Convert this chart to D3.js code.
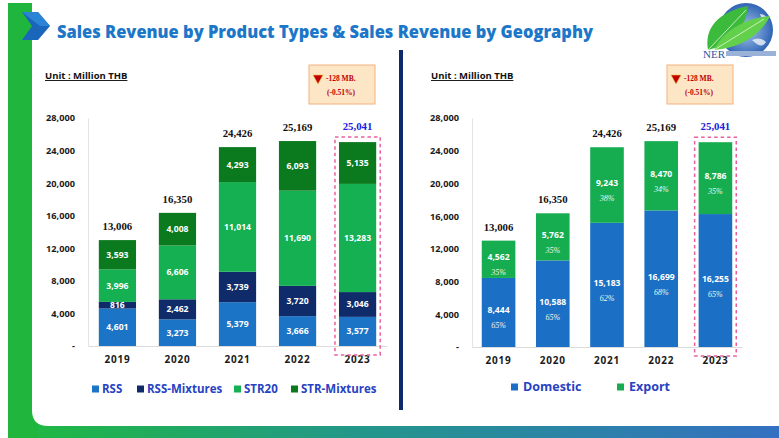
<!DOCTYPE html>
<html>
<head>
<meta charset="utf-8">
<script src="https://cdn.jsdelivr.net/npm/d3@7"></script>
<style>
  html,body{margin:0;padding:0;background:#fff;}
  svg{display:block;}
  .tick text{font-family:"Open Sans",sans-serif;font-weight:700;fill:#1a1a1a;}
</style>
</head>
<body>
<div id="view"></div>
<script>
(function(){
/* ===================== DATA ===================== */
const YEARS = ["2019","2020","2021","2022","2023"];
const TOTALS = [13006, 16350, 24426, 25169, 25041];
const Y_TICKS = [0, 4000, 8000, 12000, 16000, 20000, 24000, 28000];

// product types (left)
const PRODUCT_KEYS = ["RSS","RSS-Mixtures","STR20","STR-Mixtures"];
const RSS          = [4601, 3273, 5379, 3666, 3577];
const RSS_MIX      = [816, 2462, 3739, 3720, 3046];
const STR20        = [3996, 6606, 11014, 11690, 13283];
const STR_MIX      = [3593, 4008, 4293, 6093, 5135];

// geography (right)
const GEO_KEYS = ["Domestic","Export"];
const DOMESTIC     = [8444, 10588, 15183, 16699, 16255];
const EXPORT       = [4562, 5762, 9243, 8470, 8786];
const DOMESTIC_PCT = ["65%","65%","62%","68%","65%"];
const EXPORT_PCT   = ["35%","35%","38%","34%","35%"];

const CALLOUT = ["-128 MB.", "(-0.51%)"];

/* ===================== PALETTE ===================== */
const COLORS = {
  "RSS":"#1b74c5", "RSS-Mixtures":"#102b6a", "STR20":"#14b052", "STR-Mixtures":"#0b7a1f",
  "Domestic":"#1b6fc4", "Export":"#16ad50"
};
const LEGEND_TXT = "#2742c2";
const SANS = "Open Sans, sans-serif";
const SERIF = "Liberation Serif, serif";
const fmt = d3.format(",");

const W = 779, H = 438;
const svg = d3.select("#view").append("svg").attr("width",W).attr("height",H);
const defs = svg.append("defs");

/* ===================== FRAME ===================== */
const gb = defs.append("linearGradient").attr("id","band").attr("x1","0").attr("x2","1");
gb.append("stop").attr("offset","0").attr("stop-color","#1fba3e");
gb.append("stop").attr("offset","0.45").attr("stop-color","#23978a");
gb.append("stop").attr("offset","1").attr("stop-color","#3470c2");

svg.append("rect").attr("x",8).attr("y",3).attr("width",W-8).attr("height",H-3).attr("fill","url(#band)");
svg.append("rect").attr("x",8).attr("y",3).attr("width",30).attr("height",H-3).attr("fill","#20b53d");
// white panel, rounded bottom-left
svg.append("path")
  .attr("d",`M32,3 H${W} V426 H48 Q32,426 32,410 Z`)
  .attr("fill","#fff");

// chevron
svg.append("path").attr("d","M22,12 L38,12 L50,26 L38,40 L22,40 L32,26 Z").attr("fill","#1a66bb");
svg.append("path").attr("d","M22,12 L38,12 L50,26 L40,26 Z").attr("fill","#2b84d6");

svg.append("text").attr("x",57).attr("y",38)
  .attr("font-family",SANS).attr("font-weight",800).attr("font-size",17)
  .attr("fill","#1c77c9")
  .attr("textLength",536).attr("lengthAdjust","spacingAndGlyphs")
  .text("Sales Revenue by Product Types & Sales Revenue by Geography");

// divider
svg.append("rect").attr("x",399).attr("y",50).attr("width",4).attr("height",360).attr("fill","#0e2a6b");

// logo (approximation)
const logo = svg.append("g");
const lg = defs.append("radialGradient").attr("id","globe");
lg.append("stop").attr("offset","0").attr("stop-color","#a9c8ec");
lg.append("stop").attr("offset","1").attr("stop-color","#2f64b4");
logo.append("circle").attr("cx",746).attr("cy",30).attr("r",27).attr("fill","url(#globe)");
logo.append("path").attr("d","M730,20 q6,-6 12,-2 q4,6 -2,10 q-8,2 -10,-8Z M752,40 q8,-4 14,2 q-4,8 -14,-2Z M760,14 q6,0 8,6 q-6,2 -8,-6Z").attr("fill","#e6eef8").attr("opacity",0.85);
logo.append("path").attr("d","M708,50 C704,28 718,12 748,6 C746,28 732,44 708,50Z").attr("fill","#3cba3c");
logo.append("path").attr("d","M714,50 C722,32 744,18 770,16 C760,36 740,48 714,50Z").attr("fill","#62d04a");
logo.append("path").attr("d","M708,50 L746,10 M714,50 L764,19").attr("stroke","#e8f6e0").attr("stroke-width",0.8);
logo.append("text").attr("x",703).attr("y",58).attr("font-family",SERIF).attr("font-size",11)
  .attr("fill","#2a56a8").text("NER");
logo.append("rect").attr("x",726).attr("y",51).attr("width",50).attr("height",5).attr("fill","#9bb2d8");

/* ===================== CHART ===================== */
function drawPanel(opt){
  const g = svg.append("g");
  const x = d3.scaleBand().domain(YEARS).range(opt.xr).paddingInner(0.38).paddingOuter(0.18);
  const y = d3.scaleLinear().domain([0,28000]).range([opt.base,118]);

  // unit
  g.append("text").attr("x",opt.unitX).attr("y",79)
    .attr("font-family",SANS).attr("font-weight",700).attr("font-size",9.5)
    .attr("fill","#111").attr("text-decoration","underline").text("Unit : Million THB");

  // callout
  const cb = g.append("g").attr("transform",`translate(${opt.callX},65)`);
  cb.append("rect").attr("width",66).attr("height",39).attr("fill","#fde6c6").attr("stroke","#f2b27e").attr("stroke-width",1);
  cb.append("path").attr("d","M4,10 L14,10 L9,19 Z").attr("fill","#c00000").attr("stroke","#f0c040").attr("stroke-width",0.6);
  cb.append("text").attr("x",17).attr("y",16).attr("font-family",SERIF).attr("font-weight",700)
    .attr("font-size",7.5).attr("fill","#c00000").text(CALLOUT[0]);
  cb.append("text").attr("x",18).attr("y",30).attr("font-family",SERIF).attr("font-weight",700)
    .attr("font-size",7.5).attr("fill","#c00000").text(CALLOUT[1]);

  // axes
  const ya = g.append("g").attr("transform",`translate(${opt.xr[0]},0)`)
    .call(d3.axisLeft(y).tickValues(Y_TICKS).tickSize(0).tickPadding(13).tickSizeOuter(0)
      .tickFormat(v => v===0 ? "-" : fmt(v)));
  ya.select(".domain").attr("stroke","#e3e3e3");
  ya.selectAll("text").attr("font-size",9.2);

  const xa = g.append("g").attr("transform",`translate(0,${opt.base})`)
    .call(d3.axisBottom(x).tickSize(0).tickPadding(10).tickSizeOuter(0));
  xa.select(".domain").attr("stroke","#dcdcdc");
  xa.selectAll("text").attr("font-size",10).attr("letter-spacing",0.8);

  // bars
  const rows = YEARS.map((yr,i) => {
    const o = {year:yr, i};
    opt.keys.forEach((k,j) => o[k] = opt.series[j][i]);
    return o;
  });
  const stacked = d3.stack().keys(opt.keys)(rows);
  const layer = g.selectAll("g.layer").data(stacked).join("g").attr("fill", d => COLORS[d.key]);
  layer.selectAll("rect").data(d => d).join("rect")
    .attr("x", d => x(d.data.year)).attr("width", x.bandwidth())
    .attr("y", d => y(d[1])).attr("height", d => y(d[0]) - y(d[1]));

  // segment labels
  stacked.forEach((s,j) => {
    g.selectAll(null).data(s).join("text")
      .attr("x", d => x(d.data.year) + x.bandwidth()/2)
      .attr("y", d => (y(d[0])+y(d[1]))/2 + (opt.pct ? 1 : 3))
      .attr("text-anchor","middle")
      .attr("font-family",SANS).attr("font-weight",700).attr("font-size",8.6)
      .attr("fill","#fff")
      .text(d => fmt(d[1]-d[0]));
    if (opt.pct){
      g.selectAll(null).data(s).join("text")
        .attr("x", d => x(d.data.year) + x.bandwidth()/2)
        .attr("y", d => (y(d[0])+y(d[1]))/2 + 16)
        .attr("text-anchor","middle")
        .attr("font-family",SERIF).attr("font-style","italic").attr("font-size",8)
        .attr("fill","#eef6ee")
        .text((d,i) => opt.pct[j][i]);
    }
  });

  // 2023 highlight box
  const last = YEARS[YEARS.length-1];
  g.append("rect")
    .attr("x", x(last)-4).attr("width", x.bandwidth()+8)
    .attr("y", y(TOTALS[TOTALS.length-1]) - 5).attr("height", opt.base - y(TOTALS[TOTALS.length-1]) + 14)
    .attr("fill","none").attr("stroke","#e8609d").attr("stroke-width",1.5).attr("stroke-dasharray","3.5,3");

  // totals
  g.selectAll(null).data(TOTALS).join("text")
    .attr("x", (d,i) => x(YEARS[i]) + x.bandwidth()/2)
    .attr("y", (d,i) => y(d) - (i===TOTALS.length-1 ? 12 : 10))
    .attr("text-anchor","middle")
    .attr("font-family",SERIF).attr("font-weight",700).attr("font-size",10.8)
    .attr("fill",(d,i) => i===TOTALS.length-1 ? "#2020e0" : "#111")
    .text(d => fmt(d));

  // legend
  const leg = g.append("g").attr("transform",`translate(0,${opt.legendY})`);
  const items = leg.selectAll("g").data(opt.keys).join("g")
    .attr("transform",(d,i) => `translate(${opt.legendX[i]},0)`);
  items.append("rect").attr("x",0).attr("y",-3.5).attr("width",7).attr("height",7).attr("fill",d => COLORS[d]);
  items.append("text").attr("x",opt.legendGap).attr("y",4)
    .attr("font-family",SANS).attr("font-weight",700).attr("font-size",opt.legendSize)
    .attr("fill",LEGEND_TXT).text(d => d);
}

drawPanel({
  xr:[88,387], base:346, unitX:45, callX:309,
  keys:PRODUCT_KEYS, series:[RSS, RSS_MIX, STR20, STR_MIX],
  legendX:[92,137,234,291], legendSize:11.5, legendGap:10, legendY:389
});
drawPanel({
  xr:[472,742], base:347, unitX:431, callX:667,
  keys:GEO_KEYS, series:[DOMESTIC, EXPORT], pct:[DOMESTIC_PCT, EXPORT_PCT],
  legendX:[511,617], legendSize:12.5, legendGap:12, legendY:387
});
})();
</script>
</body>
</html>
